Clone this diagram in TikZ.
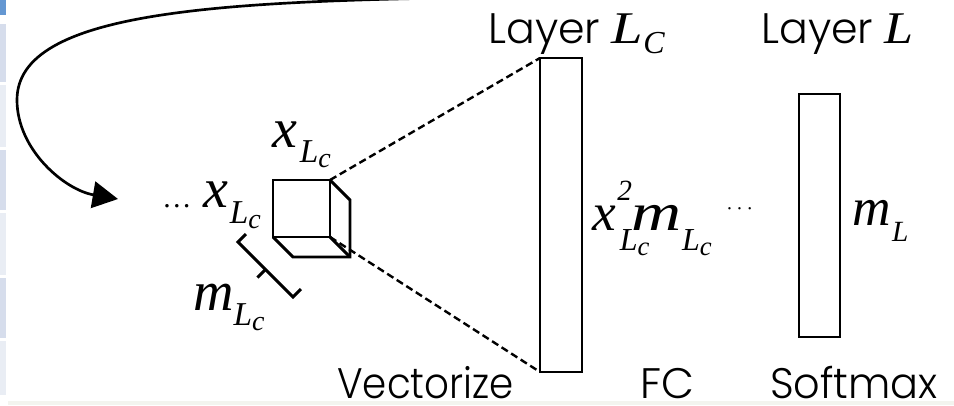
\documentclass[tikz,border=0pt]{standalone}
\usepackage{fontspec}
\setmainfont{Poppins}[UprightFont={* Light}]
\newfontfamily\tms{Liberation Serif}
\usetikzlibrary{arrows.meta}
\newcommand\mi[2]{{\fontsize{#1pt}{#1pt}\selectfont\tms\itshape #2}}
\newcommand\lcsub[4]{\raisebox{-#1pt}{\mi{#2}{L}\raisebox{-#3pt}{\mi{#4}{c}}}}
\definecolor{sbdark}{HTML}{6497D2}
\definecolor{sblightA}{HTML}{D6DDEC}
\definecolor{sblightB}{HTML}{E9EDF4}
\definecolor{stripc}{HTML}{F3F4EF}
\tikzset{
  box/.style={draw, line width=2.2pt, inner sep=0pt, outer sep=0pt},
  edge/.style={line width=2.2pt, line join=miter},
  dashline/.style={line width=1.8pt, dash pattern=on 5.5pt off 3pt},
  gothic/.style={inner sep=0pt, anchor=base west, font=\fontsize{32pt}{32pt}\selectfont},
  mathlbl/.style={inner sep=0pt, anchor=base west},
}
\begin{document}
\begin{tikzpicture}[x=0.75pt,y=-0.75pt]
\useasboundingbox (0,0) rectangle (954,405);
% side bar and bottom strip
\fill[sbdark] (0,0) rectangle (6,15);
\fill[sblightA] (0,24) rectangle (6,82);
\fill[sblightB] (0,85) rectangle (6,147);
\fill[sblightA] (0,150) rectangle (6,210);
\fill[sblightB] (0,213) rectangle (6,275);
\fill[sblightA] (0,278) rectangle (6,338);
\fill[sblightB] (0,341) rectangle (6,395);
\fill[stripc] (8,401) rectangle (954,405);

% layers
\node[box, minimum width=31.5pt, minimum height=235.5pt] (lc) at (561,215) {};
\node[box, minimum width=30.75pt, minimum height=182.25pt] (sm) at (819.5,215.5) {};

% cube
\node[box, minimum size=42.75pt] (cube) at (301.5,208.5) {};
\draw[edge] (cube.north east) -- ++(20,20) -- ++(0,57) coordinate (bse) -- ++(-57,0) -- (cube.south west);
\draw[edge] (cube.south east) -- (bse);

% dashed projection
\draw[dashline] (cube.north east) -- (lc.north west);
\draw[dashline] (cube.south east) -- (lc.south west);

% bracket
\draw[edge] (246,234) -- (238,242) -- (293,297) -- (301,289);
\draw[edge] (265.5,269.5) -- (257.5,277.5);

% labels
\node[gothic] (lclbl) at (488,43) {Layer \scalebox{1.25}[1]{\mi{34}{L}}\raisebox{-7.5pt}{\mi{24}{C}}};
\node[gothic] (smlbl) at (761,43) {Layer \scalebox{1.15}[1]{\mi{34}{L}}};
\node[gothic] (vec) at (337,398) {\scalebox{0.91}[1]{Vectorize}};
\node[gothic] (fc) at (640,398) {FC};
\node[gothic] (soft) at (770,398) {\scalebox{0.97}[1]{Softmax}};

\node[mathlbl] (xtop) at (272,147) {\mi{42}{x}\kern2pt\lcsub{11.25}{25}{3.75}{21}};
\node[mathlbl] (xleft) at (164,207) {\mi{22}{\char"2026}\kern10pt\mi{42}{x}\kern1pt\lcsub{12}{25}{3.75}{21}};
\node[mathlbl] (mbot) at (193,310) {\mi{42}{m}\lcsub{11.25}{25}{3.75}{21}};
\node[mathlbl] (vlen) at (592,230) {\mi{40}{x}\rlap{\kern1pt\raisebox{22.5pt}{\mi{22}{2}}}\rlap{\kern3pt\lcsub{15}{24}{3.75}{20}}\kern12pt\scalebox{1.3}[1]{\mi{40}{m}}\lcsub{15}{24}{3.75}{20}};
\node[mathlbl] (dots) at (726,214) {\fontsize{18pt}{18pt}\selectfont$\cdots$};
\node[mathlbl] (ml) at (852,225) {\mi{40}{m}\kern1pt\raisebox{-12pt}{\mi{22}{L}}};

% feedback arrow
\coordinate (arrend) at (118,199);
\draw[line width=2pt, -{Triangle[length=19pt,width=20pt]}]
  (520,-3) .. controls (220,0) and (17,10) .. (17,100)
  .. controls (17,150) and (65,190) .. (arrend);
\end{tikzpicture}
\end{document}
